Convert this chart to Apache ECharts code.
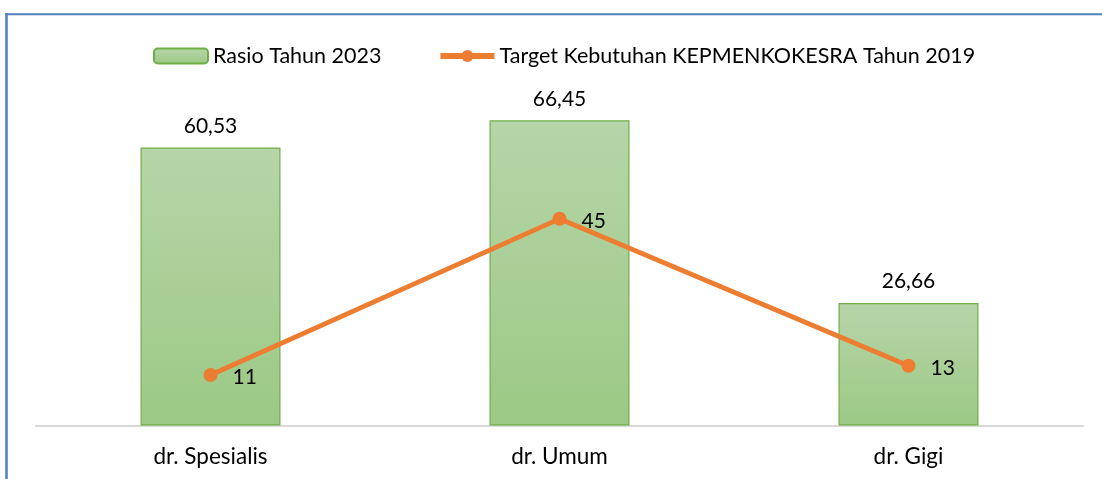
<!DOCTYPE html>
<html><head><meta charset="utf-8">
<script src="https://cdn.jsdelivr.net/npm/echarts@6/dist/echarts.min.js"></script>
<style>html,body{margin:0;padding:0;background:#fff}#c{width:1102px;height:479px}</style>
</head><body><div id="c"></div>
<script>
const categories = ['dr. Spesialis', 'dr. Umum', 'dr. Gigi'];
const rasio2023 = [60.53, 66.45, 26.66];
const target2019 = [11, 45, 13];
const seriesNames = ['Rasio Tahun 2023', 'Target Kebutuhan KEPMENKOKESRA Tahun 2019'];

const FONT = 'Lato';
const chart = echarts.init(document.getElementById('c'));
chart.setOption({
  backgroundColor: '#ffffff',
  animation: false,
  textStyle: { fontFamily: FONT, color: '#000' },
  graphic: [
    { type: 'line', shape: { x1: 6.5, y1: 13, x2: 6.5, y2: 479 }, style: { stroke: '#4F81BD', lineWidth: 2.5 } },
    { type: 'line', shape: { x1: 5, y1: 14.3, x2: 1102, y2: 14.3 }, style: { stroke: '#4F81BD', lineWidth: 2 } }
  ],
  legend: {
    top: 40, left: 148,
    itemWidth: 54, itemHeight: 15, itemGap: 56,
    textStyle: { fontFamily: FONT, fontSize: 21.5, color: '#000' },
    data: [
      { name: seriesNames[0] },
      { name: seriesNames[1], lineStyle: { width: 6 } }
    ]
  },
  grid: { left: 36, right: 19, top: 104, bottom: 53.5 },
  xAxis: {
    type: 'category', data: categories,
    axisLine: { lineStyle: { color: '#D9D9D9', width: 2 } },
    axisTick: { show: false },
    axisLabel: { fontFamily: FONT, fontSize: 22.5, color: '#000', margin: 20 }
  },
  yAxis: { type: 'value', min: 0, max: 70, show: false, splitLine: { show: false } },
  series: [
    {
      name: seriesNames[0], type: 'bar', data: rasio2023, barWidth: 140,
      itemStyle: {
        color: new echarts.graphic.LinearGradient(0, 0, 0, 1, [
          { offset: 0, color: '#B6D5A8' }, { offset: 1, color: '#9CC985' }
        ]),
        borderColor: '#70AD47', borderWidth: 1.2
      },
      label: {
        show: true, position: 'top', distance: 11,
        fontFamily: FONT, fontSize: 21, color: '#000',
        formatter: p => p.value.toFixed(2).replace('.', ',')
      }
    },
    {
      name: seriesNames[1], type: 'line', data: target2019,
      symbol: 'circle', symbolSize: 14,
      lineStyle: { color: '#ED7D31', width: 4.8 },
      itemStyle: { color: '#ED7D31' },
      label: { show: true, position: 'right', distance: 15, fontFamily: FONT, fontSize: 21, color: '#000', offset: [0, 2] },
      z: 5
    }
  ]
});
</script></body></html>
